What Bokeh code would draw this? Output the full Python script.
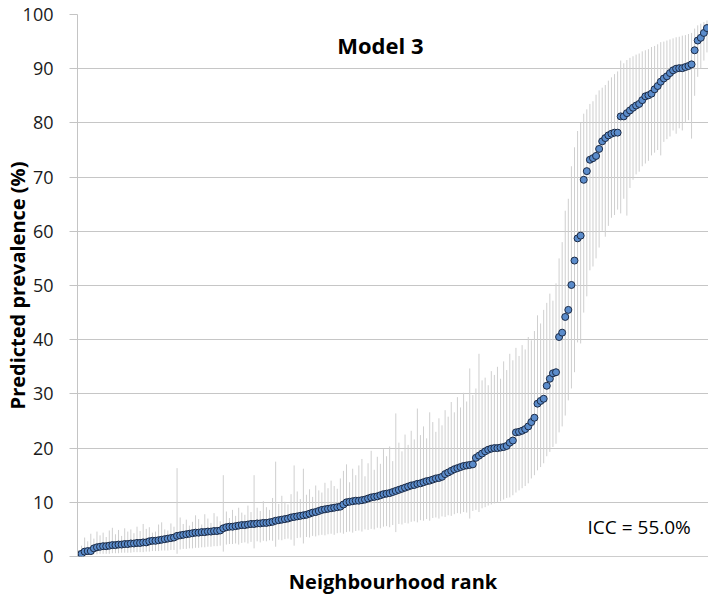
from bokeh.plotting import figure
from bokeh.models import ColumnDataSource, FixedTicker, Range1d, Label
from bokeh.embed import file_html
from bokeh.resources import INLINE

# Predicted prevalence (%) per neighbourhood, ranked
pred = [
    0.2, 0.5, 0.9, 1.0, 1.0, 1.5, 1.7, 1.8, 1.9, 1.9,
    2.0, 2.1, 2.1, 2.2, 2.2, 2.3, 2.3, 2.4, 2.4, 2.5,
    2.5, 2.6, 2.6, 2.8, 2.9, 2.9, 3.0, 3.1, 3.2, 3.3,
    3.4, 3.5, 3.8, 3.9, 4.0, 4.1, 4.2, 4.3, 4.4, 4.4,
    4.5, 4.5, 4.6, 4.6, 4.7, 4.7, 4.8, 5.2, 5.4, 5.5,
    5.5, 5.6, 5.7, 5.8, 5.8, 5.9, 6.0, 6.0, 6.1, 6.1,
    6.2, 6.2, 6.3, 6.4, 6.6, 6.7, 6.8, 6.9, 7.0, 7.2,
    7.3, 7.4, 7.5, 7.6, 7.7, 7.9, 8.1, 8.2, 8.4, 8.6,
    8.7, 8.8, 8.9, 9.0, 9.1, 9.2, 9.6, 10.0, 10.1, 10.2,
    10.3, 10.3, 10.4, 10.5, 10.7, 10.9, 11.0, 11.1, 11.3, 11.5,
    11.6, 11.7, 11.9, 12.1, 12.3, 12.5, 12.7, 12.9, 13.1, 13.2,
    13.4, 13.5, 13.7, 13.9, 14.0, 14.2, 14.4, 14.5, 14.7, 15.2,
    15.5, 15.8, 16.1, 16.3, 16.5, 16.7, 16.8, 16.9, 17.0, 18.2,
    18.6, 19.0, 19.4, 19.7, 19.9, 20.0, 20.0, 20.1, 20.2, 20.4,
    21.0, 21.4, 22.9, 23.0, 23.2, 23.5, 24.0, 24.8, 25.6, 28.2,
    28.7, 29.1, 31.5, 32.8, 33.8, 34.0, 40.5, 41.3, 44.2, 45.5,
    50.1, 54.6, 58.7, 59.2, 69.5, 71.1, 73.2, 73.5, 73.9, 75.2,
    76.6, 77.2, 77.7, 78.0, 78.2, 78.2, 81.2, 81.2, 81.8, 82.3,
    82.8, 83.2, 83.5, 84.2, 84.9, 85.1, 85.4, 86.2, 86.8, 87.6,
    88.2, 88.6, 89.2, 89.7, 90.0, 90.1, 90.1, 90.3, 90.5, 90.8,
    93.4, 95.2, 95.7, 96.6, 97.5,
]

# Upper limits of the credible intervals (%)
upper = [
    1.2, 2.0, 3.5, 2.8, 4.2, 3.3, 4.6, 3.9, 4.4, 3.6,
    4.8, 5.3, 4.1, 4.9, 3.8, 5.2, 4.6, 5.0, 4.3, 5.5,
    4.7, 6.0, 5.1, 5.4, 4.4, 4.6, 5.9, 6.3, 5.0, 4.8,
    6.1, 5.5, 16.3, 7.2, 6.0, 6.8, 5.7, 6.4, 7.6, 6.9,
    5.9, 7.8, 7.0, 6.2, 8.0, 7.4, 6.5, 15.0, 8.3, 7.1,
    8.6, 7.5, 9.0, 8.1, 7.7, 9.4, 8.2, 15.0, 9.0, 8.4,
    10.2, 9.1, 8.6, 10.8, 17.5, 9.7, 11.2, 10.1, 9.6, 11.5,
    16.8, 12.0, 10.6, 16.2, 11.4, 12.4, 11.0, 13.1, 12.2, 11.8,
    13.6, 12.6, 14.0, 13.0, 12.5, 14.4, 15.8, 17.0, 13.7, 16.2,
    15.0, 16.8, 18.0, 14.8, 17.2, 19.5, 16.0, 18.4, 17.1, 19.8,
    18.5, 20.3, 17.6, 26.4, 21.0, 19.4, 22.5, 20.6, 23.2, 21.6,
    27.3, 22.4, 24.0, 21.8, 26.6, 24.8, 23.0, 25.5, 24.2, 27.0,
    25.8, 28.5, 26.6, 29.4, 27.5, 30.2, 28.6, 34.7, 29.8, 31.0,
    37.4, 32.5, 33.0, 31.6, 34.2, 33.5, 35.0, 32.8, 36.0, 34.4,
    37.4, 36.2, 38.5, 37.0, 39.0, 38.2, 40.5, 39.9, 41.6, 44.5,
    43.0, 45.5, 46.8, 48.5, 47.2, 50.4, 55.0, 58.0, 63.8, 66.0,
    72.0, 75.5, 78.5, 80.0, 81.7, 82.5, 83.5, 84.0, 85.2, 86.0,
    86.5, 87.0, 87.8, 88.4, 89.0, 89.5, 91.5, 91.0, 91.6, 92.0,
    92.3, 92.6, 92.8, 93.2, 93.4, 93.6, 94.0, 94.2, 94.5, 94.9,
    95.0, 95.2, 95.4, 95.6, 95.8, 95.9, 96.1, 96.2, 96.4, 96.6,
    97.4, 98.0, 98.3, 98.6, 98.9,
]

# Lower limits of the credible intervals (%)
lower = [
    0.0, 0.1, 0.2, 0.3, 0.3, 0.4, 0.4, 0.5, 0.5, 0.5,
    0.5, 0.6, 0.6, 0.6, 0.7, 0.7, 0.7, 0.7, 0.8, 0.8,
    0.8, 0.8, 0.9, 0.9, 1.0, 1.0, 1.0, 1.1, 1.1, 1.1,
    1.2, 1.2, 0.5, 1.3, 1.4, 1.4, 1.5, 1.5, 1.6, 1.6,
    1.7, 1.7, 1.8, 1.8, 1.9, 1.9, 2.0, 0.9, 2.2, 2.3,
    2.3, 2.4, 2.2, 2.5, 2.6, 2.4, 2.7, 1.5, 2.8, 2.6,
    2.9, 2.8, 3.0, 2.9, 1.8, 3.1, 3.0, 3.2, 3.3, 3.1,
    2.0, 3.4, 3.5, 2.4, 3.6, 3.5, 3.8, 3.7, 3.9, 4.0,
    3.9, 4.1, 4.2, 4.0, 4.3, 4.4, 4.2, 4.5, 4.6, 4.4,
    4.7, 4.8, 4.6, 5.0, 4.9, 5.1, 5.0, 5.3, 5.2, 5.5,
    5.6, 5.4, 5.8, 4.5, 6.0, 5.9, 6.2, 6.1, 6.4, 6.5,
    6.3, 6.7, 6.6, 6.9, 6.6, 7.1, 7.2, 7.0, 7.4, 7.3,
    7.6, 7.5, 7.8, 8.0, 7.9, 8.2, 8.1, 7.0, 8.4, 8.6,
    8.2, 8.9, 9.1, 9.4, 9.6, 9.8, 10.0, 10.2, 10.5, 10.8,
    10.9, 11.3, 11.8, 12.2, 12.6, 13.0, 13.5, 14.4, 15.0, 15.9,
    16.5, 17.2, 18.5, 19.3, 20.2, 20.8, 22.9, 24.0, 26.0, 28.8,
    31.0, 34.0, 39.5, 39.3, 45.0, 48.0, 52.8, 53.5, 55.0, 57.0,
    60.1, 59.0, 61.0, 62.5, 63.0, 64.0, 63.3, 66.0, 62.9, 68.0,
    69.5, 70.5, 71.0, 72.0, 72.5, 73.0, 74.0, 74.5, 75.0, 74.0,
    76.5, 77.0, 77.5, 78.6, 78.0, 79.0, 78.6, 80.0, 80.5, 77.1,
    85.0, 88.5, 90.0, 91.5, 93.0,
]

rank = list(range(1, len(pred) + 1))
y_ticks = [0, 10, 20, 30, 40, 50, 60, 70, 80, 90, 100]
grid_ticks = [10, 20, 30, 40, 50, 60, 70, 80, 90, 100]

src = ColumnDataSource(dict(rank=rank, pred=pred, lower=lower, upper=upper))

p = figure(width=708, height=600, output_backend="svg", toolbar_location=None,
           x_range=Range1d(0.68, 205.5), y_range=Range1d(0, 100),
           min_border_left=77, min_border_right=0, min_border_top=14,
           min_border_bottom=44)
p.outline_line_color = None
p.background_fill_color = "white"
p.border_fill_color = "white"

p.segment(x0="rank", y0="lower", x1="rank", y1="upper", source=src,
          line_color="#cfcfcf", line_width=1)
p.scatter(x="rank", y="pred", source=src, size=7, fill_color="#5b8ccb",
          line_color="#1b2a45", line_width=1)

# Axes
p.xaxis.ticker = FixedTicker(ticks=[])
p.xaxis.axis_label = "Neighbourhood rank"
p.xaxis.axis_label_text_font = "Open Sans"
p.xaxis.axis_label_text_font_style = "bold"
p.xaxis.axis_label_text_font_size = "20px"
p.xaxis.axis_label_text_color = "#000000"
p.xaxis.axis_label_standoff = 11
p.xaxis.major_tick_out = 0
p.xaxis.major_label_standoff = 0
p.xaxis.axis_line_color = "#9a9a9a"
p.xaxis.axis_line_dash = "1 1"

p.yaxis.ticker = FixedTicker(ticks=y_ticks)
p.yaxis.axis_label = "Predicted prevalence (%)"
p.yaxis.axis_label_text_font = "Open Sans"
p.yaxis.axis_label_text_font_style = "bold"
p.yaxis.axis_label_text_font_size = "20px"
p.yaxis.axis_label_text_color = "#000000"
p.yaxis.axis_label_standoff = -11
p.yaxis.major_label_text_font = "Open Sans"
p.yaxis.major_label_text_font_size = "18px"
p.yaxis.major_label_text_color = "#1a1a1a"
p.yaxis.major_label_standoff = 16
p.yaxis.major_tick_out = 8
p.yaxis.major_tick_in = 0
p.yaxis.major_tick_line_color = "#c4c4c4"
p.yaxis.minor_tick_line_color = None
p.yaxis.axis_line_color = "#c4c4c4"

p.xgrid.grid_line_color = None
p.ygrid.ticker = FixedTicker(ticks=grid_ticks)
p.ygrid.grid_line_color = "#c6c6c6"
p.ygrid.grid_line_width = 1

p.add_layout(Label(x=99, y=94.3, text="Model 3", text_font="Open Sans",
                   text_font_style="bold", text_font_size="22px",
                   text_align="center", text_baseline="middle", text_color="#000000"))
p.add_layout(Label(x=183, y=5.4, text="ICC = 55.0%", text_font="Open Sans",
                   text_font_size="19px", text_align="center",
                   text_baseline="middle", text_color="#000000"))

open("out.html", "w").write(file_html(p, INLINE))
